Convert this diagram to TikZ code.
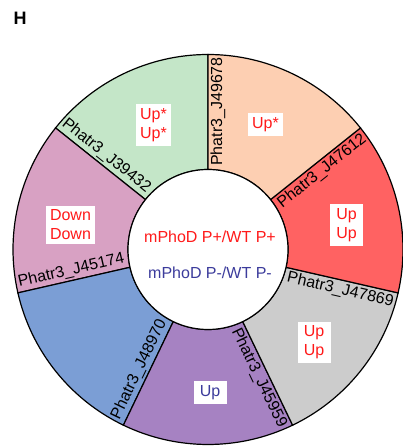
\documentclass[tikz,border=0pt]{standalone}
\usepackage{fontspec}
\setmainfont{Liberation Sans}
\definecolor{sgreen}{HTML}{C4E6C8}
\definecolor{spink}{HTML}{D8A1C3}
\definecolor{sblue}{HTML}{7B9ED5}
\definecolor{spurple}{HTML}{A682C2}
\definecolor{sgray}{HTML}{CCCCCC}
\definecolor{sred}{HTML}{FF6262}
\definecolor{speach}{HTML}{FDCFB2}
\definecolor{upred}{HTML}{FF1A1A}
\definecolor{dnblue}{HTML}{3C3C9C}
\begin{document}
\begin{tikzpicture}[x=1pt,y=1pt,line width=1.2pt,
  genelbl/.style={font=\fontsize{16}{19}\selectfont,inner sep=2pt},
  statbox/.style={fill=white,text=upred,font=\fontsize{16}{19}\selectfont,
    align=center,inner xsep=4pt,inner ysep=4pt,minimum width=33pt},
  centertxt/.style={font=\fontsize{16}{19}\selectfont,inner sep=1pt}]
\useasboundingbox (0,0) rectangle (402,446);
\coordinate (c) at (208,196.5);

% ring of seven equal sectors
\begin{scope}[shift={(c)}]
\foreach \i/\col in {0/sgreen,1/spink,2/sblue,3/spurple,4/sgray,5/sred,6/speach}{
  \pgfmathsetmacro\a{90+\i*360/7}
  \pgfmathsetmacro\b{\a+360/7}
  \filldraw[fill=\col] (\a:80pt) -- (\a:195pt)
    arc[start angle=\a,end angle=\b,radius=195pt] -- (\b:80pt)
    arc[start angle=\b,end angle=\a,radius=80pt] -- cycle;
}
\filldraw[fill=white] (0,0) circle[radius=80pt];

% gene names along the sector borders
\node[genelbl,rotate=90,anchor=north] (g1) at (90:138pt) {Phatr3\_J49678};
\node[genelbl,rotate=-38.571,anchor=south] (g2) at (141.429:138pt) {Phatr3\_J39432};
\node[genelbl,rotate=12.857,anchor=south] (g3) at (192.857:138pt) {Phatr3\_J45174};
\node[genelbl,rotate=64.286,anchor=south] (g4) at (244.286:138pt) {Phatr3\_J48970};
\node[genelbl,rotate=-64.286,anchor=north] (g5) at (295.714:138pt) {Phatr3\_J45959};
\node[genelbl,rotate=-12.857,anchor=north] (g6) at (347.143:138pt) {Phatr3\_J47869};
\node[genelbl,rotate=38.571,anchor=north] (g7) at (38.571:138pt) {Phatr3\_J47612};
\end{scope}

% regulation labels
\node[statbox] (sgr) at (153.5,321) {Up*\\Up*};
\node[statbox] (spe) at (265.5,321.5) {Up*};
\node[statbox] (sre) at (346.5,221) {Up\\Up};
\node[statbox] (sgy) at (314,103.5) {Up\\Up};
\node[statbox,text=dnblue] (spu) at (210,53.5) {Up};
\node[statbox] (spk) at (70.5,221) {Down\\Down};

% centre legend
\node[centertxt,text=upred] (cplus) at (210,209.3) {mPhoD P+/WT P+};
\node[centertxt,text=dnblue] (cminus) at (210,173) {mPhoD P-/WT P-};

% panel letter
\node[font=\fontsize{18}{20}\selectfont\bfseries,inner sep=0pt] (panel) at (20,427.5) {H};
\end{tikzpicture}
\end{document}
